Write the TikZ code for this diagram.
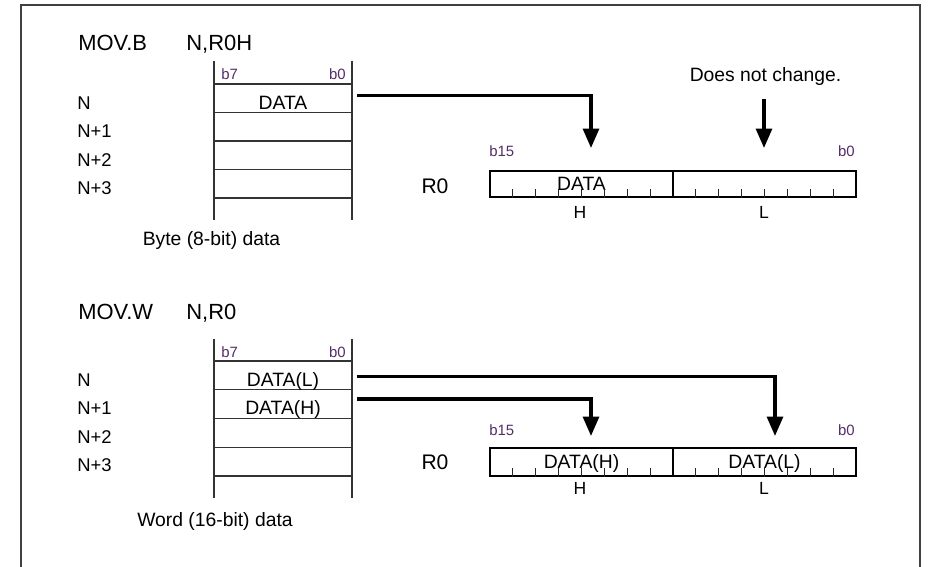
\documentclass[tikz,border=0pt]{standalone}
\usepackage{fontspec}
\setmainfont{Liberation Sans}
\usetikzlibrary{arrows.meta,calc}
\definecolor{bitpurple}{RGB}{85,45,105}
\tikzset{
  frame/.style={draw=black!75,line width=1.2pt},
  memline/.style={draw=black!80,line width=0.8pt},
  cell/.style={minimum width=2.76cm,minimum height=0.57cm,inner sep=0pt,text height=12.4pt,text depth=0pt,font=\fontsize{11}{13}\selectfont},
  reghalf/.style={draw,line width=1.1pt,minimum width=3.65cm,inner sep=0pt,text height=7.9pt,text depth=0pt,font=\fontsize{11}{13}\selectfont},
  tick/.style={draw=black!85,line width=0.6pt},
  movtext/.style={font=\fontsize{12.5}{15}\selectfont,anchor=base west,inner sep=0pt},
  regname/.style={font=\fontsize{12}{14}\selectfont,anchor=base,inner sep=0pt},
  rowlabel/.style={font=\fontsize{10.5}{12}\selectfont,anchor=base west,inner sep=0pt},
  bitlabel/.style={font=\fontsize{8.5}{10}\selectfont,inner sep=0pt,text=bitpurple},
  caption/.style={font=\fontsize{11}{13}\selectfont,anchor=base,inner sep=0pt},
  halflabel/.style={font=\fontsize{10}{12}\selectfont,anchor=base,inner sep=0pt},
  movearrow/.style={line width=1.9pt,-{Triangle[length=11pt,width=9pt]}}
}
\begin{document}
\begin{tikzpicture}[x=0.02cm,y=-0.02cm]
  \useasboundingbox (0,0) rectangle (941,567);
  \draw[frame] (21,567) -- (21,5) -- (920,5) -- (920,567);

  % MOV.B N,R0H
  \node[movtext] (movb) at (78,50.4) {MOV.B};
  \node[movtext] (movbops) at (186,50.4) {N,R0H};
  \draw[memline] (214,61) -- (214,220);
  \draw[memline] (352,61) -- (352,220);
  \foreach \y in {84,112.5,141,169.5,198}
    \draw[memline] (214,\y) -- (352,\y);
  \node[bitlabel,anchor=base west] (b7b) at (221,80) {b7};
  \node[bitlabel,anchor=base east] (b0b) at (346,80) {b0};
  \node[cell] (cellb0) at (283,98.25) {DATA};
  \node[rowlabel] (nb0) at (77,109.5) {N};
  \node[rowlabel] (nb1) at (77,138) {N+1};
  \node[rowlabel] (nb2) at (77,166.5) {N+2};
  \node[rowlabel] (nb3) at (77,195) {N+3};
  \node[caption] (byteb) at (211.5,246) {Byte (8-bit) data};

  \node[regname] (r0b) at (435,193.6) {R0};
  \node[reghalf,minimum height=0.52cm] (regbh) at (581.5,184) {DATA};
  \node[reghalf,minimum height=0.52cm] (regbl) at (764.5,184) {};
  \foreach \k in {1,...,7} {
    \draw[tick] ($(regbh.south west)!\k/8!(regbh.south east)$) -- ++(0,-9);
    \draw[tick] ($(regbl.south west)!\k/8!(regbl.south east)$) -- ++(0,-9);
  }
  \node[bitlabel,anchor=base west] (b15r) at (489,156.5) {b15};
  \node[bitlabel,anchor=base east] (b0r) at (855,156.5) {b0};
  \node[halflabel] (hb) at (580,219) {H};
  \node[halflabel] (lb) at (764,219) {L};
  \node[caption] (nochg) at (765.5,82) {Does not change.};

  \coordinate (tipbh) at (591,148);
  \coordinate (tipbl) at (764,148);
  \draw[movearrow] ($(cellb0.east)+(5,-3)$) -| (tipbh);
  \draw[movearrow] ($(nochg.south -| tipbl)+(0,13)$) -- (tipbl);

  % MOV.W N,R0
  \node[movtext] (movw) at (78,320) {MOV.W};
  \node[movtext] (movwops) at (186,320) {N,R0};
  \draw[memline] (214,339) -- (214,498);
  \draw[memline] (352,339) -- (352,498);
  \foreach \y in {361,389.75,418.5,447.25,476}
    \draw[memline] (214,\y) -- (352,\y);
  \node[bitlabel,anchor=base west] (b7w) at (221,358) {b7};
  \node[bitlabel,anchor=base east] (b0w) at (346,358) {b0};
  \node[cell] (cellw0) at (283,375.4) {DATA(L)};
  \node[cell] (cellw1) at (283,404.1) {DATA(H)};
  \node[rowlabel] (nw0) at (77,386.5) {N};
  \node[rowlabel] (nw1) at (77,415) {N+1};
  \node[rowlabel] (nw2) at (77,443.5) {N+2};
  \node[rowlabel] (nw3) at (77,472) {N+3};
  \node[caption] (wordw) at (215,527) {Word (16-bit) data};

  \node[regname] (r0w) at (435,469.6) {R0};
  \node[reghalf,minimum height=0.56cm] (regwh) at (581.5,462) {DATA(H)};
  \node[reghalf,minimum height=0.56cm] (regwl) at (764.5,462) {DATA(L)};
  \foreach \k in {1,...,7} {
    \draw[tick] ($(regwh.south west)!\k/8!(regwh.south east)$) -- ++(0,-9);
    \draw[tick] ($(regwl.south west)!\k/8!(regwl.south east)$) -- ++(0,-9);
  }
  \node[bitlabel,anchor=base west] (b15w) at (489,435.4) {b15};
  \node[bitlabel,anchor=base east] (b0rw) at (855,435.4) {b0};
  \node[halflabel] (hw) at (580,494.3) {H};
  \node[halflabel] (lw) at (764,494.3) {L};

  \coordinate (tipwh) at (591,436);
  \coordinate (tipwl) at (775,436);
  \draw[movearrow] ($(cellw0.east)+(5,1)$) -| (tipwl);
  \draw[movearrow] ($(cellw1.east)+(5,-5)$) -| (tipwh);
\end{tikzpicture}
\end{document}
